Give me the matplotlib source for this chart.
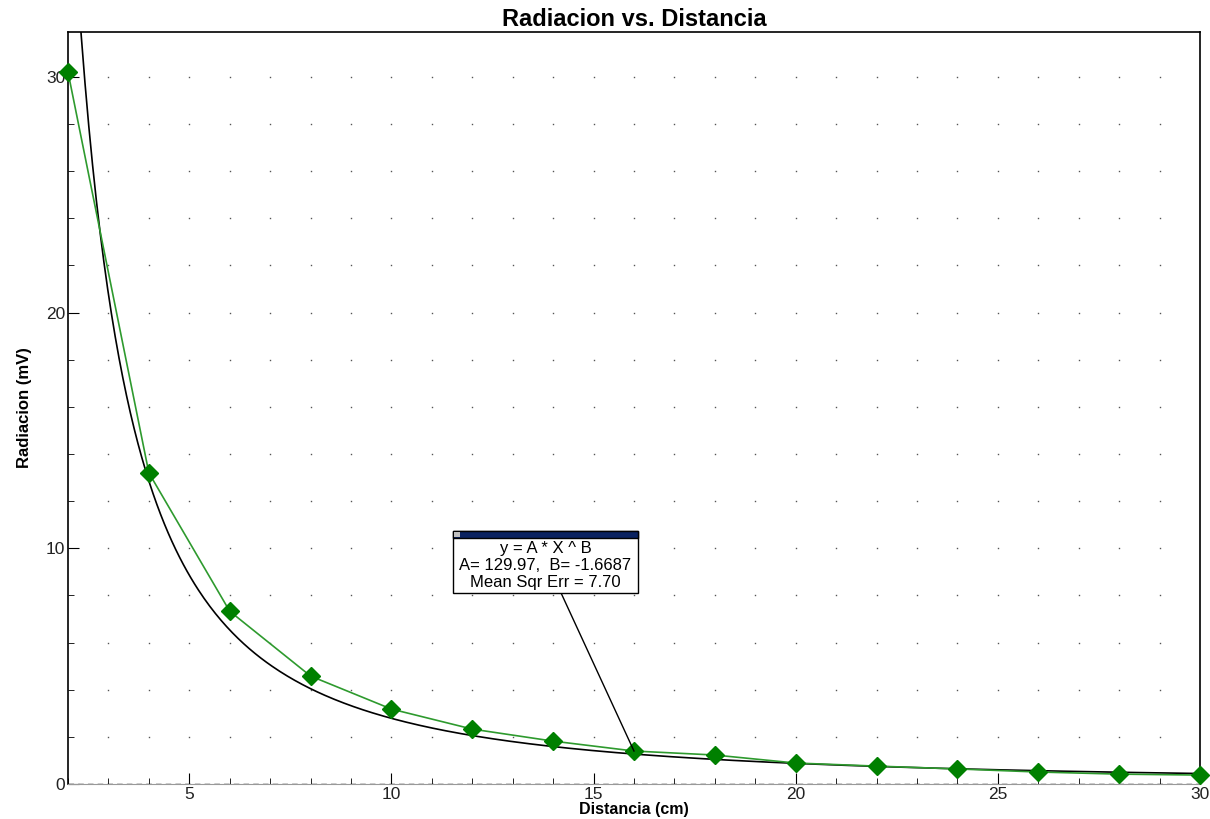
import numpy as np
import matplotlib
matplotlib.use("Agg")
import matplotlib.pyplot as plt
from matplotlib.patches import Rectangle
from matplotlib.ticker import MultipleLocator

plt.rcParams["font.family"] = ["Liberation Sans", "DejaVu Sans"]

# measured data
distancia = [2, 4, 6, 8, 10, 12, 14, 16, 18, 20, 22, 24, 26, 28, 30]
radiacion = [30.2, 13.2, 7.33, 4.58, 3.18, 2.33, 1.82, 1.40, 1.23, 0.89, 0.76, 0.64, 0.51, 0.42, 0.38]

# power fit y = A * x^B
fit_A = 129.97
fit_B = -1.6687
fit_mse = 7.70

fig = plt.figure(figsize=(12.1, 8.19), dpi=100)
ax = fig.add_axes([0.0562, 0.0427, 0.9355, 0.9182])

ax.set_xlim(2, 30)
ax.set_ylim(0, 31.9)

xs = np.linspace(2, 30, 600)
ax.plot(xs, fit_A * xs ** fit_B, color="black", lw=1.2, zorder=3)
ax.plot(distancia, radiacion, color="#2e9a2e", lw=1.2, marker="D",
        markersize=9, markerfacecolor="#008000", markeredgecolor="#008000",
        zorder=4, clip_on=False)

ax.axhline(0, color="black", lw=1, ls=(0, (4, 3)), zorder=2)

ax.xaxis.set_major_locator(MultipleLocator(5))
ax.xaxis.set_minor_locator(MultipleLocator(1))
ax.yaxis.set_major_locator(MultipleLocator(10))
ax.yaxis.set_minor_locator(MultipleLocator(2))
ax.tick_params(which="both", direction="in", labelsize=12.5, top=False, right=False,
               labelcolor="#222222")
ax.tick_params(which="major", length=8, pad=2)
ax.tick_params(which="minor", length=4)

# dotted grid at minor tick positions
gx = np.arange(3, 30, 1)
gy = np.arange(2, 32, 2)
GX, GY = np.meshgrid(gx, gy)
ax.plot(GX.ravel(), GY.ravel(), ls="none", marker="s", markersize=1.0,
        color="#555555", markeredgewidth=0, zorder=1)

for side in ["left", "top", "right"]:
    ax.spines[side].set_linewidth(1.2)
ax.spines["bottom"].set_color("#999999")

ax.set_title("Radiacion vs. Distancia", fontsize=17, fontweight="bold", pad=4)
ax.set_xlabel("Distancia (cm)", fontsize=11.5, fontweight="bold", labelpad=0)
ax.set_ylabel("Radiacion (mV)", fontsize=12, fontweight="bold", labelpad=10)

# fit annotation box
bx0, bx1, by0, by1 = 11.52, 16.1, 8.09, 10.72
ax.add_patch(Rectangle((bx0, by0), bx1 - bx0, by1 - by0, facecolor="white",
                       edgecolor="black", lw=1, zorder=6))
ax.add_patch(Rectangle((bx0, 10.42), bx1 - bx0, by1 - 10.42, facecolor="#0a2260",
                       edgecolor="black", lw=1, zorder=7))
ax.add_patch(Rectangle((bx0 + 0.03, 10.47), 0.15, 0.2, facecolor="#c0c0c0",
                       edgecolor="none", zorder=8))
lines = ["y = A * X ^ B",
         "A= %.2f,  B= %.4f" % (fit_A, fit_B),
         "Mean Sqr Err = %.2f" % fit_mse]
for i, t in enumerate(lines):
    ax.text((bx0 + bx1) / 2, 10.0 - i * 0.73, t, ha="center", va="center",
            fontsize=12, zorder=8)
ax.plot([14.2, distancia[7]], [by0, radiacion[7]], color="black", lw=1, zorder=5)

fig.savefig("out.png", dpi=100)
